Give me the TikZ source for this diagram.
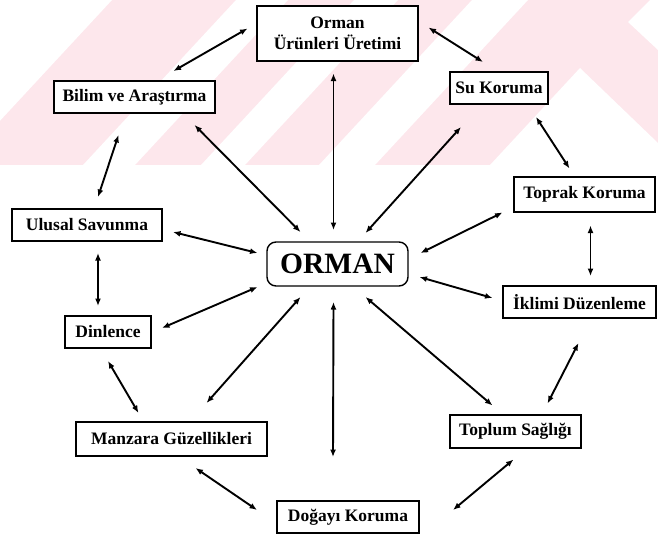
\documentclass[tikz,border=0pt]{standalone}
\usepackage{fontspec}
\setmainfont{Liberation Serif}
\usetikzlibrary{arrows.meta,calc}
\definecolor{wm}{RGB}{253,231,236}
\tikzset{
  box/.style={draw=black, line width=1.4pt, fill=white, inner sep=0pt,
    font=\fontsize{17.5}{21}\selectfont\bfseries, align=center},
  arr/.style={{Latex[length=7.5pt,width=6pt]}-{Latex[length=7.5pt,width=6pt]}, line width=1.9pt, black},
  stripe/.style={fill=white, draw=none}
}
\begin{document}
\begin{tikzpicture}[x=1pt,y=-1pt]
\useasboundingbox (0,0) rectangle (658,536);
\fill[white] (0,0) rectangle (658,536);
% watermark
\begin{scope}
  \clip (0,0) rectangle (658,165);
  \fill[wm] (0,0) rectangle (658,165);
  \fill[stripe] (-200,0) -- (112,0) -- (-41,165) -- (-353,165) -- cycle;
  \fill[stripe] (236,0) -- (288,0) -- (135,165) -- (83,165) -- cycle;
  \fill[stripe] (354,0) -- (398,0) -- (245,165) -- (201,165) -- cycle;
  \fill[stripe] (472,0) -- (528,0) -- (375,165) -- (319,165) -- cycle;
  \fill[stripe] (490,165) -- (580,68) -- (658,143) -- (658,165) -- cycle;
  \fill[stripe] (628,22) -- (650,0) -- (658,0) -- (658,50) -- cycle;
\end{scope}
% nodes
\node[box, minimum width=161pt, minimum height=55pt] (oru) at (337.5,33.5) {Orman\\Ürünleri Üretimi};
\node[box, minimum width=161pt, minimum height=32pt] (bil) at (134.5,97) {Bilim ve Araştırma};
\node[box, minimum width=98pt, minimum height=32pt] (su) at (499,88) {Su Koruma};
\node[box, minimum width=141pt, minimum height=35pt] (top) at (584.5,194.5) {Toprak Koruma};
\node[box, minimum width=153pt, minimum height=32pt] (ikl) at (579.5,302) {İklimi Düzenleme};
\node[box, minimum width=150pt, minimum height=32pt] (ulu) at (87,225) {Ulusal Savunma};
\node[box, minimum width=86pt, minimum height=32pt] (din) at (108,332) {Dinlence};
\node[box, rounded corners=9pt, minimum width=141pt, minimum height=44pt,
  font=\fontsize{29.5}{32}\selectfont\bfseries] (orm) at (337.5,264) {ORMAN};
\node[box, minimum width=191pt, minimum height=34pt] (man) at (171.5,439) {Manzara Güzellikleri};
\node[box, minimum width=131pt, minimum height=33pt] (topl) at (515.5,431.5) {Toplum Sağlığı};
\node[box, minimum width=142pt, minimum height=32pt] (dog) at (348,517) {Doğayı Koruma};
% connectors
\draw[arr] ($(oru)+(-90,-5)$) -- ($(bil)+(39,-26)$);
\draw[arr] ($(oru)+(91,-6)$) -- ($(su)+(-16,-26)$);
\draw[arr] ($(orm)+(-4,-34)$) -- ($(oru)+(-4,40)$);
\draw[arr] ($(bil)+(-16,38)$) -- ($(ulu)+(11,-28)$);
\draw[arr] ($(bil)+(60,28)$) -- ($(orm)+(-37,-32)$);
\draw[arr] ($(su)+(-38,39)$) -- ($(orm)+(28,-31)$);
\draw[arr] ($(su)+(37,29)$) -- ($(top)+(-15,-26)$);
\draw[arr] ($(top)+(-82,18)$) -- ($(orm)+(83,-11)$);
\draw[arr] ($(top)+(6,31)$) -- ($(ikl)+(11,-26)$);
\draw[arr] ($(orm)+(82,13)$) -- ($(ikl)+(-87,-4)$);
\draw[arr] ($(ulu)+(86,7)$) -- ($(orm)+(-80,-11)$);
\draw[arr] ($(ulu)+(11,28)$) -- ($(din)+(-10,-26)$);
\draw[arr] ($(din)+(54,-4)$) -- ($(orm)+(-80,23)$);
\draw[arr] ($(din)+(0,29)$) -- ($(man)+(-33,-26)$);
\draw[arr] ($(orm)+(-37,33)$) -- ($(man)+(35,-36)$);
\draw[arr] ($(orm)+(-4,38)$) -- ($(dog)+(-15,-60)$);
\draw[arr] ($(orm)+(28,33)$) -- ($(topl)+(-23,-26)$);
\draw[arr] ($(ikl)+(-1,41)$) -- ($(topl)+(32,-28)$);
\draw[arr] ($(man)+(24,29)$) -- ($(dog)+(-91,-7)$);
\draw[arr] ($(topl)+(-2,28)$) -- ($(dog)+(105,-7)$);
\end{tikzpicture}
\end{document}
